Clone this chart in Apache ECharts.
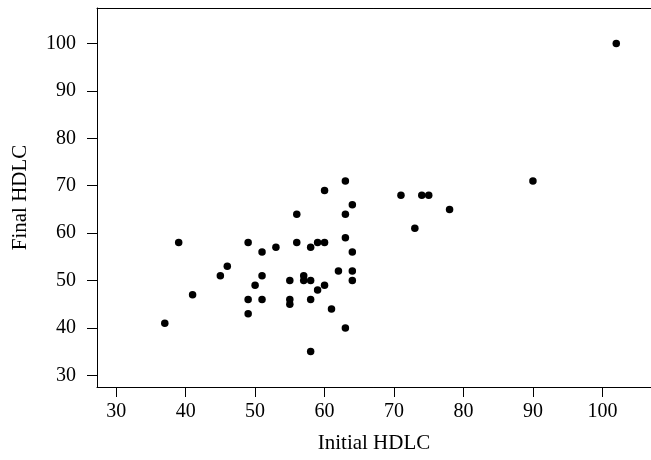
<!DOCTYPE html>
<html>
<head>
<meta charset="utf-8">
<script src="https://cdn.jsdelivr.net/npm/echarts@6/dist/echarts.min.js"></script>
<style>
  html, body { margin: 0; padding: 0; background: #fff; }
  #chart { width: 651px; height: 460px; }
</style>
</head>
<body>
<div id="chart"></div>
<script>
// 数据：初始 HDLC 与最终 HDLC
const initialHdlc = [37, 39, 41, 45, 46, 49, 49, 49, 50, 51, 51, 51, 53, 55, 55, 55,
  56, 56, 57, 57, 58, 58, 58, 58, 59, 59, 60, 60, 60, 61, 62, 63, 63, 63, 63,
  64, 64, 64, 64, 71, 73, 74, 75, 78, 90, 102];
const finalHdlc = [41, 58, 47, 51, 53, 58, 46, 43, 49, 56, 51, 46, 57, 50, 46, 45,
  64, 58, 51, 50, 57, 50, 46, 35, 58, 48, 58, 69, 49, 44, 52, 71, 64, 59, 40,
  66, 56, 52, 50, 68, 61, 68, 68, 65, 71, 100];
const xTicks = [30, 40, 50, 60, 70, 80, 90, 100];
const yTicks = [30, 40, 50, 60, 70, 80, 90, 100];

(function() {
    const chart = echarts.init(document.getElementById('chart'));
    const points = initialHdlc.map((x, i) => [x, finalHdlc[i]]);
    const font = 'Liberation Serif';
    const xMin = 27.24, xMax = 107;

    const axisCommon = {
        type: 'value',
        nameLocation: 'middle',
        nameTextStyle: { fontFamily: font, fontSize: 21, color: '#000' },
        axisLine: { show: true, lineStyle: { color: '#000', width: 1 } },
        axisTick: { show: true, length: 10, lineStyle: { color: '#000' } },
        axisLabel: { fontFamily: font, fontSize: 20, color: '#000' },
        splitLine: { show: false }
    };

    chart.setOption({
        animation: false,
        grid: { left: 97, top: 8, right: -4, bottom: 73 },
        xAxis: [
            Object.assign({}, axisCommon, {
                name: 'Initial HDLC',
                nameGap: 46,
                min: xMin, max: xMax,
                axisTick: Object.assign({}, axisCommon.axisTick, { customValues: xTicks }),
                axisLabel: Object.assign({}, axisCommon.axisLabel, { margin: 15, customValues: xTicks })
            }),
            // 顶部边框线
            {
                type: 'value', position: 'top', min: xMin, max: xMax,
                axisLine: { show: true, lineStyle: { color: '#000', width: 1 } },
                axisTick: { show: false }, axisLabel: { show: false }, splitLine: { show: false }
            }
        ],
        yAxis: Object.assign({}, axisCommon, {
            name: 'Final HDLC',
            nameGap: 66,
            min: 27.53, max: 107.49,
            axisTick: Object.assign({}, axisCommon.axisTick, { customValues: yTicks }),
            axisLabel: Object.assign({}, axisCommon.axisLabel, { margin: 21, customValues: yTicks })
        }),
        series: [{
            type: 'scatter',
            data: points,
            symbolSize: 7.5,
            itemStyle: { color: '#000', opacity: 1 }
        }]
    });
})();
</script>
</body>
</html>
